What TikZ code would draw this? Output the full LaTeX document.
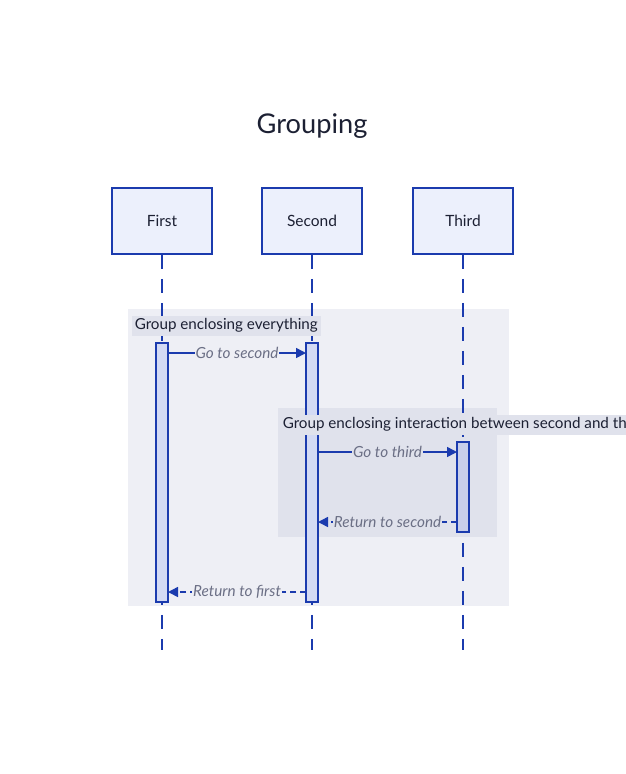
\documentclass[tikz,border=0pt]{standalone}
\usepackage{fontspec}
\setmainfont{Lato}
\usepackage{tikz}
\usetikzlibrary{arrows.meta,positioning}
\definecolor{seqblue}{HTML}{1B3BAE}
\definecolor{actorfill}{HTML}{ECF0FC}
\definecolor{barfill}{HTML}{D3DAF4}
\definecolor{outerfill}{HTML}{EEEFF5}
\definecolor{innerfill}{HTML}{E0E2EC}
\definecolor{labelfill}{HTML}{E0E2EC}
\definecolor{textdark}{HTML}{1C2033}
\definecolor{msggray}{HTML}{6B6F85}

\begin{document}
\begin{tikzpicture}[x=1pt,y=-1pt,>={Triangle[length=10pt,width=10pt]},line width=1.5pt]
        \tikzstyle{actor} = [draw=seqblue, fill=actorfill, minimum width=100pt, minimum height=66pt, text=textdark, font=\fontsize{15.5}{18}\selectfont]
        \tikzstyle{lifeline} = [draw=seqblue, dash pattern=on 14pt off 10pt]
        \tikzstyle{bar} = [draw=seqblue, fill=barfill, minimum width=12pt, inner sep=0pt]
        \tikzstyle{grouplabel} = [fill=labelfill, text=textdark, inner sep=3pt, anchor=north west, font=\fontsize{15.2}{18}\selectfont]
        \tikzstyle{msglabel} = [text=msggray, inner sep=1pt, font=\fontsize{15.3}{18}\selectfont\itshape]
        \tikzstyle{msg} = [draw=seqblue, ->]
        \tikzstyle{reply} = [draw=seqblue, ->, dash pattern=on 6pt off 4pt]

        \useasboundingbox (0,0) rectangle (625,774);

        % Title
        \node[text=textdark, font=\fontsize{27.2}{32}\selectfont] (title) at (312,126.5) {Grouping};

        % Groups
        \node[fill=outerfill, minimum width=381pt, minimum height=297pt, inner sep=0pt] (outer) at (318.5,457.5) {};
        \node[fill=innerfill, minimum width=219pt, minimum height=129pt, inner sep=0pt] (inner) at (387.5,472.5) {};

        % Participants
        \node[actor] (first) at (162,221) {First};
        \node[actor] (second) at (312,221) {Second};
        \node[actor] (third) at (463,221) {Third};

        % Lifelines
        \coordinate (firstend) at (162,650);
        \coordinate (secondend) at (312,650);
        \coordinate (thirdend) at (463,650);
        \path[lifeline] (first.south) -- (firstend);
        \path[lifeline] (second.south) -- (secondend);
        \path[lifeline] (third.south) -- (thirdend);

        % Activations
        \node[bar, minimum height=259pt] (firstbar) at (162,472.5) {};
        \node[bar, minimum height=259pt] (secondbar) at (312,472.5) {};
        \node[bar, minimum height=90pt, fill=barfill!85!seqblue!60!innerfill] (thirdbar) at (463,487) {};

        % Group labels
        \node[grouplabel] (outerlabel) at (131,315) {Group enclosing everything};
        \node[grouplabel] (innerlabel) at (279,414) {Group enclosing interaction between second and third};

        % Messages
        \coordinate (m1a) at (168,353);  \coordinate (m1b) at (306,353);
        \coordinate (m2a) at (318,452);  \coordinate (m2b) at (457,452);
        \coordinate (m3a) at (457,522);  \coordinate (m3b) at (318,522);
        \coordinate (m4a) at (306,592);  \coordinate (m4b) at (168,592);
        \path[msg] (m1a) -- node[msglabel, fill=outerfill] {Go to second} (m1b);
        \path[msg] (m2a) -- node[msglabel, fill=innerfill] {Go to third} (m2b);
        \path[reply] (m3a) -- node[msglabel, fill=innerfill] {Return to second} (m3b);
        \path[reply] (m4a) -- node[msglabel, fill=outerfill] {Return to first} (m4b);
    \end{tikzpicture}
\end{document}
